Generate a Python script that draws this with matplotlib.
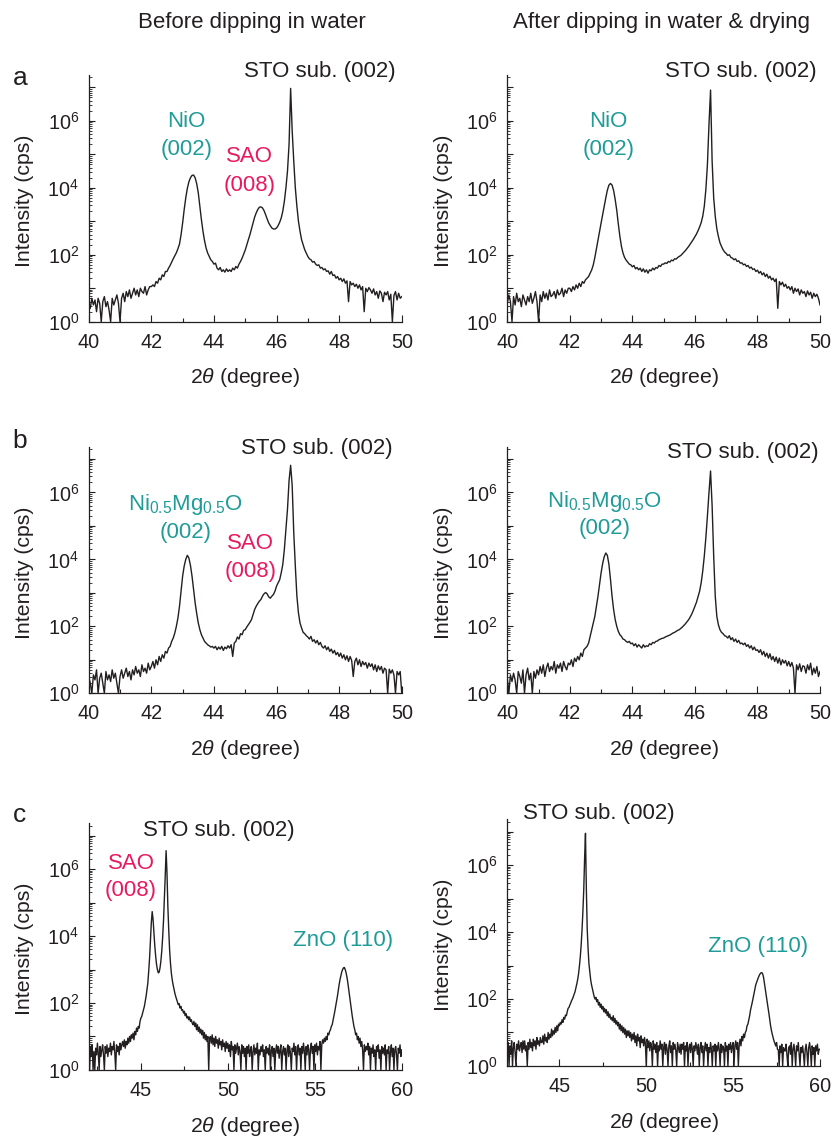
import numpy as np
import matplotlib
matplotlib.use("Agg")
import matplotlib.pyplot as plt
from matplotlib.ticker import FixedLocator, FuncFormatter, MultipleLocator, NullFormatter

plt.rcParams['font.family'] = ['Liberation Sans', 'DejaVu Sans']
plt.rcParams['mathtext.fontset'] = 'custom'
plt.rcParams['mathtext.rm'] = 'Liberation Sans'
plt.rcParams['mathtext.it'] = 'Liberation Sans:italic'
plt.rcParams['mathtext.bf'] = 'Liberation Sans:bold'

INK = '#231f20'
TEAL = '#1f9c98'
PINK = '#e8195f'

# scan ranges (degrees 2theta), step 0.05; values are log10(intensity in cps)
range_ab = (40.0, 50.0)
range_c = (42.0, 60.0)

a_before = [
    0.6, 0.4, 0.7, 0.5, 0.65, 0.3, 0.7, 0.55, 0.0, 0.6, 0.75, 0.45, 0.6, 0.35, 0.0, 0.7, 0.5, 0.65, 0.8, 0.55,
    0.0, 0.7, 0.85, 0.6, 0.9, 0.75, 0.95, 0.7, 0.85, 1.0, 0.8, 0.95, 0.75, 1.0, 0.9, 0.85, 1.05, 0.8, 0.95, 1.05,
    1.05, 1.1, 1.05, 1.2, 1.15, 1.3, 1.25, 1.4, 1.35, 1.5, 1.5, 1.6, 1.68, 1.78, 1.88, 1.97, 2.06, 2.18, 2.32, 2.6,
    2.95, 3.35, 3.7, 3.98, 4.18, 4.3, 4.37, 4.38, 4.3, 4.12, 3.85, 3.45, 3.05, 2.7, 2.42, 2.2, 2.05, 1.95, 1.85, 1.8,
    1.72, 1.75, 1.6, 1.55, 1.62, 1.5, 1.55, 1.48, 1.58, 1.5, 1.55, 1.5, 1.6, 1.55, 1.65, 1.6, 1.72, 1.8, 1.9, 2.02,
    2.14, 2.3, 2.45, 2.6, 2.78, 2.95, 3.12, 3.25, 3.35, 3.42, 3.43, 3.4, 3.32, 3.2, 3.07, 2.95, 2.87, 2.8, 2.77, 2.77,
    2.8, 2.87, 2.97, 3.1, 3.3, 3.6, 4.0, 4.5, 5.3, 6.97, 5.7, 4.8, 4.0, 3.45, 3.0, 2.7, 2.45, 2.3, 2.15, 2.05,
    1.95, 1.88, 1.85, 1.78, 1.8, 1.72, 1.68, 1.7, 1.6, 1.62, 1.55, 1.58, 1.5, 1.52, 1.42, 1.5, 1.38, 1.4, 1.3, 1.35,
    1.25, 1.3, 1.2, 1.28, 1.15, 1.22, 0.6, 1.2, 1.1, 1.15, 1.05, 1.12, 1.0, 1.1, 0.95, 1.05, 0.3, 1.0, 0.9, 1.02,
    0.95, 0.85, 0.98, 0.8, 0.9, 0.7, 0.92, 0.85, 0.6, 0.88, 0.8, 0.9, 0.65, 0.82, 0.0, 0.78, 0.9, 0.65, 0.85, 0.7,
    0.75]

a_after = [
    0.55, 0.8, 0.6, 0.0, 0.75, 0.5, 0.85, 0.6, 0.7, 0.45, 0.8, 0.65, 0.5, 0.75, 0.6, 0.85, 0.55, 0.7, 0.9, 0.6,
    0.0, 0.8, 0.6, 0.9, 0.7, 0.85, 0.65, 0.95, 0.75, 0.8, 0.9, 0.7, 0.95, 0.8, 0.85, 1.0, 0.75, 0.95, 0.85, 1.0,
    1.0, 0.9, 1.05, 0.95, 1.1, 1.0, 1.15, 1.05, 1.2, 1.15, 1.25, 1.3, 1.35, 1.45, 1.55, 1.7, 1.92, 2.18, 2.44, 2.7,
    2.95, 3.2, 3.45, 3.7, 3.93, 4.08, 4.13, 4.08, 3.92, 3.65, 3.33, 2.92, 2.55, 2.25, 2.05, 1.92, 1.84, 1.78, 1.72, 1.7,
    1.64, 1.68, 1.58, 1.62, 1.55, 1.6, 1.5, 1.58, 1.48, 1.55, 1.45, 1.55, 1.52, 1.6, 1.55, 1.62, 1.6, 1.68, 1.65, 1.72,
    1.72, 1.76, 1.74, 1.8, 1.78, 1.84, 1.82, 1.88, 1.87, 1.92, 1.95, 1.98, 2.03, 2.08, 2.13, 2.19, 2.25, 2.32, 2.39, 2.46,
    2.54, 2.62, 2.72, 2.83, 2.96, 3.15, 3.45, 3.95, 4.7, 5.9, 6.92, 4.8, 3.7, 3.15, 2.78, 2.55, 2.36, 2.25, 2.15, 2.08,
    2.04, 1.98, 2.0, 1.92, 1.9, 1.85, 1.88, 1.8, 1.82, 1.75, 1.76, 1.7, 1.72, 1.65, 1.68, 1.6, 1.63, 1.56, 1.58, 1.5,
    1.54, 1.45, 1.5, 1.4, 1.46, 1.35, 1.42, 1.3, 1.36, 1.25, 1.3, 1.2, 1.28, 0.4, 1.2, 1.1, 1.18, 1.05, 1.12, 1.0,
    1.05, 0.95, 1.05, 0.85, 1.0, 0.9, 0.98, 0.8, 0.95, 0.85, 0.9, 0.75, 0.92, 0.8, 0.88, 0.7, 0.85, 0.75, 0.82, 0.7,
    0.5]

b_before = [
    0.5, 0.3, 0.0, 0.55, 0.4, 0.7, 0.0, 0.45, 0.6, 0.3, 0.0, 0.65, 0.4, 0.55, 0.35, 0.7, 0.45, 0.6, 0.3, 0.0,
    0.5, 0.7, 0.45, 0.6, 0.75, 0.5, 0.65, 0.4, 0.7, 0.55, 0.8, 0.6, 0.7, 0.5, 0.85, 0.65, 0.75, 0.6, 0.9, 0.7,
    0.8, 0.95, 0.75, 1.0, 0.85, 1.1, 0.95, 1.15, 1.05, 1.25, 1.2, 1.35, 1.4, 1.55, 1.65, 1.8, 2.0, 2.25, 2.6, 3.05,
    3.5, 3.8, 4.0, 4.12, 4.04, 3.82, 3.5, 3.1, 2.7, 2.38, 2.1, 1.9, 1.75, 1.65, 1.55, 1.5, 1.45, 1.42, 1.38, 1.4,
    1.35, 1.4, 1.3, 1.38, 1.32, 1.4, 1.28, 1.38, 1.33, 1.42, 1.35, 1.45, 1.1, 1.5, 1.55, 1.68, 1.62, 1.78, 1.75, 1.88,
    1.9, 1.98, 2.05, 2.12, 2.2, 2.35, 2.5, 2.6, 2.68, 2.75, 2.8, 2.9, 2.97, 3.01, 2.97, 2.88, 2.84, 2.9, 2.95, 3.05,
    3.2, 3.3, 3.39, 3.6, 3.85, 4.3, 4.9, 5.5, 6.35, 6.81, 6.2, 4.8, 3.8, 2.9, 2.4, 2.1, 1.95, 1.82, 1.78, 1.72,
    1.68, 1.62, 1.7, 1.55, 1.6, 1.5, 1.58, 1.45, 1.52, 1.4, 1.35, 1.42, 1.3, 1.38, 1.25, 1.32, 1.2, 1.28, 1.15, 1.22,
    1.1, 1.2, 1.05, 1.15, 1.0, 1.12, 0.95, 1.1, 0.98, 0.5, 0.95, 1.05, 0.85, 1.0, 0.8, 0.95, 0.85, 0.92, 0.75, 0.9,
    0.8, 0.88, 0.7, 0.85, 0.65, 0.82, 0.7, 0.8, 0.6, 0.75, 0.7, 0.0, 0.72, 0.6, 0.7, 0.55, 0.0, 0.65, 0.55, 0.65,
    0.0]

b_after = [
    0.45, 0.0, 0.55, 0.35, 0.6, 0.4, 0.0, 0.65, 0.5, 0.3, 0.7, 0.0, 0.55, 0.75, 0.4, 0.6, 0.0, 0.65, 0.45, 0.7,
    0.55, 0.8, 0.6, 0.85, 0.5, 0.75, 0.9, 0.65, 0.8, 0.7, 0.95, 0.6, 0.85, 0.75, 0.9, 0.65, 0.95, 0.8, 0.7, 0.9,
    0.85, 1.0, 0.8, 1.05, 0.95, 1.1, 1.0, 1.2, 1.1, 1.3, 1.35, 1.4, 1.5, 1.7, 1.9, 2.1, 2.3, 2.6, 2.9, 3.25,
    3.6, 3.88, 4.08, 4.19, 4.12, 3.85, 3.4, 2.9, 2.5, 2.2, 2.0, 1.85, 1.75, 1.7, 1.62, 1.6, 1.55, 1.52, 1.55, 1.48,
    1.5, 1.42, 1.48, 1.38, 1.45, 1.4, 1.35, 1.45, 1.38, 1.42, 1.4, 1.48, 1.45, 1.52, 1.5, 1.55, 1.56, 1.6, 1.62, 1.64,
    1.65, 1.68, 1.7, 1.72, 1.74, 1.77, 1.8, 1.82, 1.85, 1.88, 1.9, 1.94, 1.98, 2.03, 2.08, 2.14, 2.2, 2.28, 2.37, 2.48,
    2.6, 2.72, 2.88, 3.05, 3.3, 3.65, 4.1, 4.65, 5.3, 6.0, 6.64, 5.6, 4.1, 2.9, 2.3, 2.05, 1.9, 1.82, 1.78, 1.72,
    1.7, 1.65, 1.72, 1.6, 1.66, 1.55, 1.62, 1.52, 1.58, 1.48, 1.5, 1.45, 1.5, 1.4, 1.45, 1.35, 1.42, 1.3, 1.38, 1.28,
    1.3, 1.22, 1.3, 1.15, 1.25, 1.1, 1.2, 1.05, 1.18, 1.0, 1.1, 0.95, 1.08, 0.9, 1.05, 0.85, 1.0, 0.9, 0.98, 0.82,
    0.95, 0.8, 0.92, 0.75, 0.0, 0.85, 0.7, 0.88, 0.65, 0.82, 0.8, 0.6, 0.85, 0.7, 0.9, 0.55, 0.75, 0.6, 0.8, 0.5,
    0.65]

c_before = [
    0.6, 0.0, 0.7, 0.4, 0.75, 0.0, 0.55, 0.0, 0.65, 0.45, 0.8, 0.5, 0.0, 0.7, 0.4, 0.6, 0.75, 0.45, 0.0, 0.7,
    0.5, 0.75, 0.4, 0.65, 0.55, 0.8, 0.45, 0.7, 0.6, 0.85, 0.5, 0.0, 0.75, 0.55, 0.7, 0.45, 0.8, 0.6, 0.75, 0.85,
    0.7, 0.9, 0.65, 0.85, 0.75, 0.95, 0.8, 1.0, 0.85, 1.05, 0.95, 1.1, 0.9, 1.15, 1.05, 1.25, 1.15, 1.3, 1.25, 1.45,
    1.55, 1.6, 1.7, 1.8, 1.9, 2.05, 2.2, 2.4, 2.6, 2.95, 3.35, 3.9, 4.4, 4.73, 4.5, 4.1, 3.7, 3.4, 3.15, 3.0,
    2.9, 2.92, 3.05, 3.25, 3.55, 3.95, 4.45, 5.1, 5.8, 6.55, 5.9, 4.9, 4.2, 3.6, 3.2, 2.9, 2.7, 2.55, 2.42, 2.3,
    2.2, 2.12, 2.05, 1.95, 1.98, 1.85, 1.9, 1.78, 1.8, 1.7, 1.75, 1.62, 1.68, 1.55, 1.6, 1.5, 1.58, 1.45, 1.5, 1.4,
    1.35, 1.45, 1.3, 1.4, 1.2, 1.35, 1.15, 1.28, 1.1, 1.22, 1.05, 1.18, 0.95, 1.12, 0.9, 1.05, 0.85, 1.0, 0.0, 0.95,
    1.0, 0.8, 1.05, 0.75, 0.95, 0.7, 1.0, 0.8, 0.9, 0.65, 0.95, 0.75, 0.85, 0.6, 0.9, 0.7, 0.8, 0.55, 0.85, 0.65,
    0.8, 0.55, 0.75, 0.4, 0.85, 0.6, 0.7, 0.0, 0.75, 0.5, 0.65, 0.8, 0.45, 0.7, 0.55, 0.0, 0.75, 0.5, 0.7, 0.4,
    0.65, 0.0, 0.7, 0.5, 0.75, 0.4, 0.6, 0.7, 0.0, 0.55, 0.75, 0.45, 0.65, 0.5, 0.8, 0.0, 0.6, 0.45, 0.7, 0.55,
    0.75, 0.4, 0.6, 0.0, 0.7, 0.5, 0.65, 0.45, 0.75, 0.0, 0.6, 0.7, 0.4, 0.65, 0.0, 0.55, 0.75, 0.5, 0.7, 0.35,
    0.6, 0.75, 0.0, 0.55, 0.7, 0.45, 0.65, 0.0, 0.6, 0.75, 0.4, 0.7, 0.5, 0.0, 0.65, 0.55, 0.8, 0.45, 0.7, 0.0,
    0.6, 0.75, 0.45, 0.65, 0.0, 0.7, 0.5, 0.8, 0.55, 0.0, 0.7, 0.45, 0.75, 0.6, 0.0, 0.65, 0.8, 0.5, 0.7, 0.0,
    0.75, 0.55, 0.8, 0.45, 0.7, 0.6, 0.85, 0.0, 0.75, 0.9, 0.8, 0.95, 0.85, 1.0, 0.9, 1.1, 1.05, 1.15, 1.2, 1.3,
    1.35, 1.48, 1.6, 1.75, 1.9, 2.05, 2.2, 2.38, 2.55, 2.7, 2.82, 2.93, 3.0, 3.05, 3.06, 3.0, 2.9, 2.77, 2.6, 2.4,
    2.2, 2.0, 1.8, 1.62, 1.45, 1.3, 1.2, 1.05, 1.1, 0.9, 1.0, 0.8, 0.95, 0.7, 0.85, 0.6, 0.0, 0.75, 0.55, 0.7,
    0.6, 0.8, 0.45, 0.7, 0.0, 0.65, 0.5, 0.75, 0.4, 0.6, 0.0, 0.7, 0.55, 0.75, 0.35, 0.6, 0.0, 0.7, 0.5, 0.65,
    0.45, 0.75, 0.0, 0.6, 0.5, 0.7, 0.0, 0.55, 0.75, 0.4, 0.65, 0.0, 0.6, 0.7, 0.45, 0.0, 0.65, 0.5, 0.75, 0.4,
    0.6]

c_after = [
    0.5, 0.7, 0.0, 0.6, 0.35, 0.75, 0.0, 0.55, 0.7, 0.4, 0.0, 0.65, 0.5, 0.75, 0.45, 0.6, 0.7, 0.4, 0.75, 0.5,
    0.75, 0.45, 0.6, 0.0, 0.7, 0.5, 0.8, 0.55, 0.7, 0.45, 0.8, 0.6, 0.75, 0.5, 0.85, 0.65, 0.75, 0.6, 0.85, 0.7,
    0.7, 0.9, 0.65, 0.95, 0.75, 0.85, 0.7, 1.0, 0.8, 0.95, 0.85, 1.1, 0.9, 1.05, 0.95, 1.15, 1.0, 1.2, 1.05, 1.25,
    1.2, 1.3, 1.25, 1.38, 1.3, 1.45, 1.4, 1.52, 1.5, 1.62, 1.72, 1.75, 1.82, 1.88, 1.95, 2.0, 2.07, 2.15, 2.22, 2.33,
    2.45, 2.58, 2.75, 2.98, 3.25, 3.6, 4.05, 4.6, 5.25, 6.2, 6.95, 5.3, 4.1, 3.5, 3.05, 2.8, 2.57, 2.42, 2.3, 2.18,
    2.07, 2.0, 2.05, 1.92, 1.98, 1.82, 1.9, 1.75, 1.85, 1.7, 1.78, 1.62, 1.72, 1.58, 1.68, 1.5, 1.62, 1.45, 1.55, 1.4,
    1.45, 1.35, 1.5, 1.3, 1.42, 1.25, 1.35, 1.2, 1.3, 1.1, 1.25, 1.05, 1.2, 1.0, 1.15, 0.95, 1.1, 0.85, 1.05, 0.9,
    1.05, 0.85, 1.0, 0.75, 0.95, 0.8, 1.0, 0.7, 0.9, 0.6, 0.95, 0.75, 0.85, 0.55, 0.9, 0.7, 0.8, 0.6, 0.85, 0.65,
    0.0, 0.8, 0.55, 0.75, 0.45, 0.7, 0.6, 0.0, 0.75, 0.5, 0.65, 0.4, 0.7, 0.0, 0.6, 0.45, 0.75, 0.5, 0.65, 0.0,
    0.55, 0.7, 0.35, 0.65, 0.5, 0.0, 0.6, 0.75, 0.4, 0.6, 0.0, 0.7, 0.5, 0.65, 0.45, 0.0, 0.7, 0.55, 0.4, 0.65,
    0.35, 0.65, 0.5, 0.7, 0.0, 0.6, 0.45, 0.7, 0.0, 0.55, 0.65, 0.4, 0.7, 0.5, 0.0, 0.6, 0.45, 0.7, 0.55, 0.35,
    0.65, 0.0, 0.55, 0.7, 0.4, 0.6, 0.0, 0.5, 0.7, 0.45, 0.65, 0.0, 0.55, 0.4, 0.7, 0.5, 0.0, 0.6, 0.45, 0.65,
    0.0, 0.6, 0.45, 0.7, 0.5, 0.0, 0.65, 0.4, 0.6, 0.55, 0.0, 0.7, 0.45, 0.6, 0.0, 0.65, 0.5, 0.7, 0.4, 0.6,
    0.7, 0.0, 0.6, 0.75, 0.5, 0.7, 0.0, 0.65, 0.8, 0.6, 0.88, 0.75, 0.95, 0.85, 1.0, 1.05, 1.2, 1.25, 1.38, 1.5,
    1.67, 1.78, 1.9, 2.03, 2.17, 2.3, 2.42, 2.5, 2.57, 2.64, 2.7, 2.75, 2.78, 2.79, 2.75, 2.65, 2.47, 2.3, 2.12, 1.95,
    1.77, 1.6, 1.4, 1.22, 1.07, 0.95, 0.85, 0.75, 0.68, 0.6, 0.7, 0.5, 0.48, 0.0, 0.6, 0.4, 0.65, 0.0, 0.55, 0.45,
    0.45, 0.65, 0.3, 0.0, 0.55, 0.6, 0.35, 0.7, 0.0, 0.5, 0.65, 0.4, 0.0, 0.6, 0.45, 0.7, 0.35, 0.0, 0.55, 0.4,
    0.6, 0.35, 0.0, 0.5, 0.65, 0.4, 0.0, 0.55, 0.7, 0.45, 0.0, 0.6, 0.35, 0.55, 0.0, 0.6, 0.45, 0.65, 0.35, 0.5,
    0.5]

# peak labels: text, 2theta, log10(y), colour
labels_a_before = [('STO sub. (002)', 47.38, 7.46, INK), ('NiO', 43.13, 5.97, TEAL), ('(002)', 43.13, 5.15, TEAL),
                   ('SAO', 45.13, 4.95, PINK), ('(008)', 45.13, 4.08, PINK)]
labels_a_after = [('STO sub. (002)', 47.46, 7.46, INK), ('NiO', 43.23, 5.97, TEAL), ('(002)', 43.23, 5.15, TEAL)]
labels_b_before = [('STO sub. (002)', 47.30, 7.31, INK),
                   (r'Ni$_{\mathregular{0.5}}$Mg$_{\mathregular{0.5}}$O', 43.08, 5.64, TEAL),
                   ('(002)', 43.08, 4.79, TEAL), ('SAO', 45.17, 4.47, PINK), ('(008)', 45.17, 3.64, PINK)]
labels_b_after = [('STO sub. (002)', 47.52, 7.19, INK),
                  (r'Ni$_{\mathregular{0.5}}$Mg$_{\mathregular{0.5}}$O', 43.12, 5.74, TEAL),
                  ('(002)', 43.12, 4.91, TEAL)]
labels_c_before = [('STO sub. (002)', 49.47, 7.16, INK), ('SAO', 44.43, 6.17, PINK), ('(008)', 44.43, 5.37, PINK),
                   ('ZnO (110)', 56.6, 3.86, TEAL)]
labels_c_after = [('STO sub. (002)', 47.24, 7.54, INK), ('ZnO (110)', 56.45, 3.56, TEAL)]

fig = plt.figure(figsize=(8.33, 11.38), dpi=100)

def even_decades(v, pos):
    e = int(round(np.log10(v)))
    if e % 2 == 0:
        return r'$\mathregular{10^{%d}}$' % e
    return ''

def draw_panel(rect, xr, logs, major, minor, labels):
    ax = fig.add_axes(rect)
    x = np.linspace(xr[0], xr[1], len(logs))
    ax.plot(x, 10.0 ** np.array(logs), color=INK, lw=1.0)
    ax.set_yscale('log')
    ax.set_xlim(xr)
    ax.set_ylim(1, 10 ** 7.37)
    ax.spines['top'].set_visible(False)
    ax.spines['right'].set_visible(False)
    for s in ['left', 'bottom']:
        ax.spines[s].set_color(INK)
        ax.spines[s].set_linewidth(0.9)
    ax.xaxis.set_major_locator(MultipleLocator(major))
    ax.xaxis.set_minor_locator(MultipleLocator(minor))
    ax.yaxis.set_major_locator(FixedLocator([10.0 ** k for k in range(8)]))
    ax.yaxis.set_minor_locator(FixedLocator([m * 10.0 ** k for k in range(8) for m in range(2, 10)]))
    ax.yaxis.set_major_formatter(FuncFormatter(even_decades))
    ax.yaxis.set_minor_formatter(NullFormatter())
    ax.tick_params(which='both', direction='in', colors=INK, width=0.8, labelsize=14.3)
    ax.tick_params(axis='x', which='major', length=5, pad=8)
    ax.tick_params(axis='x', which='minor', length=3)
    ax.tick_params(axis='y', which='major', length=4.5, pad=7)
    ax.tick_params(axis='y', which='minor', length=2.5, width=0.6)
    ax.set_xlabel(r'2$\it{\theta}$ (degree)', fontsize=15.3, color=INK)
    ax.set_ylabel('Intensity (cps)', fontsize=15.3, color=INK)
    ax.xaxis.set_label_coords(0.5, -0.228)
    ax.yaxis.set_label_coords(-0.204, 0.49)
    ax.xaxis.label.set_verticalalignment('center')
    ax.yaxis.label.set_verticalalignment('center')
    for txt, lx, ly, col in labels:
        ax.text(lx, 10 ** ly, txt, color=col, fontsize=16, ha='center', va='center')
    return ax

left_x, right_x = 0.1065, 0.6090
w_left, w_right = 0.3758, 0.3754
h = 0.2168

draw_panel([left_x, 0.7173, w_left, h], range_ab, a_before, 2, 1, labels_a_before)
draw_panel([right_x, 0.7173, w_right, h], range_ab, a_after, 2, 1, labels_a_after)
draw_panel([left_x, 0.3908, w_left, h], range_ab, b_before, 2, 1, labels_b_before)
draw_panel([right_x, 0.3908, w_right, h], range_ab, b_after, 2, 1, labels_b_after)
draw_panel([left_x, 0.0598, w_left, h], range_c, c_before, 5, 2.5, labels_c_before)
draw_panel([right_x, 0.0633, w_right, h], range_c, c_after, 5, 2.5, labels_c_after)

fig.text(0.3025, 0.980, 'Before dipping in water', fontsize=16, color=INK, ha='center', va='center')
fig.text(0.7943, 0.980, 'After dipping in water & drying', fontsize=16, color=INK, ha='center', va='center')
for letter, yy in [('a', 0.9315), ('b', 0.6125), ('c', 0.2838)]:
    fig.text(0.024, yy, letter, fontsize=19, color=INK, ha='center', va='center')

fig.savefig('out.png', dpi=100)
